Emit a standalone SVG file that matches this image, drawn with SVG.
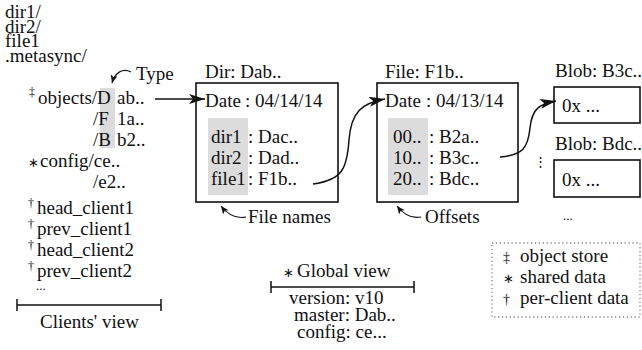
<svg xmlns="http://www.w3.org/2000/svg" width="642" height="350" viewBox="0 0 642 350">
<style>
text{font-family:"Liberation Serif","Times New Roman",serif;font-size:19px;fill:#111}
.sup{font-size:12px}
.ast{font-family:"DejaVu Sans",sans-serif;font-size:13px}
.box{fill:#fff;stroke:#111;stroke-width:1.6}
.bg{fill:#dcdcdc}
.con{fill:none;stroke:#111;stroke-width:1.5}
.thin{fill:none;stroke:#111;stroke-width:1.2}
.dot{fill:none;stroke:#888;stroke-width:1.3;stroke-dasharray:1.3 2.6}
</style>
<defs>
<marker id="big" markerUnits="userSpaceOnUse" markerWidth="18" markerHeight="12" refX="16" refY="5" orient="auto">
<path d="M0,0 L16,5 L0,10 L4,5 z" fill="#111"/>
</marker>
<marker id="small" markerUnits="userSpaceOnUse" markerWidth="10" markerHeight="8" refX="8" refY="3.5" orient="auto">
<path d="M0,0 L8,3.5 L0,7 L2,3.5 z" fill="#111"/>
</marker>
</defs>

<g id="clients-view">
<text x="5" y="18">dir1/</text>
<text x="5" y="33">dir2/</text>
<text x="5" y="47">file1</text>
<text x="5" y="62">.metasync/</text>
<rect class="bg" x="100" y="88" width="15" height="60"/>
<text class="sup" x="29" y="96">‡</text>
<text x="38" y="104">objects/D</text>
<text x="117" y="104">ab..</text>
<text x="93" y="125">/F</text>
<text x="117" y="125">1a..</text>
<text x="93" y="146">/B</text>
<text x="117" y="146">b2..</text>
<text class="ast" x="28" y="167">∗</text>
<text x="40" y="167">config/ce..</text>
<text x="93" y="188">/e2..</text>
<text class="sup" x="28" y="207">†</text>
<text x="37" y="214">head_client1</text>
<text class="sup" x="28" y="228">†</text>
<text x="37" y="235">prev_client1</text>
<text class="sup" x="28" y="249">†</text>
<text x="37" y="256">head_client2</text>
<text class="sup" x="28" y="270">†</text>
<text x="37" y="277">prev_client2</text>
<text x="36" y="290" style="font-size:13px">...</text>
<path class="con" d="M17,305 H161 M17,299 V311 M161,299 V311"/>
<text x="40" y="328">Clients' view</text>
<text x="136" y="80">Type</text>
</g>

<g id="dir-node">
<text x="205" y="78">Dir: Dab..</text>
<rect class="box" x="196" y="83" width="142" height="119"/>
<rect class="bg" x="208" y="118" width="40" height="77"/>
<text x="205" y="107">Date</text>
<text x="245" y="107">: 04/14/14</text>
<text x="211" y="143">dir1</text>
<text x="248" y="143">: Dac..</text>
<text x="211" y="164">dir2</text>
<text x="248" y="164">: Dad..</text>
<text x="211" y="185">file1</text>
<text x="248" y="185">: F1b..</text>
<text x="248" y="223">File names</text>
</g>

<g id="file-node">
<text x="385" y="78">File: F1b..</text>
<rect class="box" x="377" y="83" width="141" height="119"/>
<rect class="bg" x="388" y="118" width="40" height="77"/>
<text x="385" y="107">Date</text>
<text x="426" y="107">: 04/13/14</text>
<text x="393" y="143">00..</text>
<text x="429" y="143">: B2a..</text>
<text x="393" y="164">10..</text>
<text x="429" y="164">: B3c..</text>
<text x="393" y="185">20..</text>
<text x="429" y="185">: Bdc..</text>
<text x="425" y="223">Offsets</text>
</g>

<g id="blob-b3c">
<text x="555" y="77">Blob: B3c..</text>
<rect class="box" x="554" y="87" width="86" height="36"/>
<text x="562" y="112">0x ...</text>
</g>

<g id="blob-bdc">
<text x="555" y="150">Blob: Bdc..</text>
<rect class="box" x="554" y="160" width="86" height="37"/>
<text x="562" y="186">0x ...</text>
<text x="563" y="220" style="font-size:13px">...</text>
<text x="534" y="166" style="font-size:13px">⋮</text>
</g>

<g id="global-view">
<text class="ast" x="283" y="277">∗</text>
<text x="297" y="277">Global view</text>
<path class="con" d="M271,287 H414 M271,281 V293 M414,281 V293"/>
<text x="289" y="304">version: v10</text>
<text x="294" y="321">master: Dab..</text>
<text x="297" y="338">config: ce...</text>
</g>

<g id="legend">
<rect class="dot" x="492" y="243" width="148" height="74"/>
<text x="503" y="262" style="font-size:14px">‡</text>
<text x="520" y="262">object store</text>
<text class="ast" x="503" y="283">∗</text>
<text x="520" y="283">shared data</text>
<text x="503" y="304" style="font-size:14px">†</text>
<text x="520" y="304">per-client data</text>
</g>

<g id="connectors">
<path class="con" d="M155,99 H205" marker-end="url(#big)"/>
<path class="con" d="M313,184 C343,180 347,168 349,140 C351,112 362,103 385,99" marker-end="url(#big)"/>
<path class="con" d="M500,157 C523,155 528,148 530,128 C532,108 540,104 556,101" marker-end="url(#big)"/>
<path class="thin" d="M131,72 C123,68 115,72 112,83" marker-end="url(#small)"/>
<path class="thin" d="M246,217 C236,219 228,215 221,206" marker-end="url(#small)"/>
<path class="thin" d="M421,217 C411,219 404,215 397,206" marker-end="url(#small)"/>
</g>
</svg>
